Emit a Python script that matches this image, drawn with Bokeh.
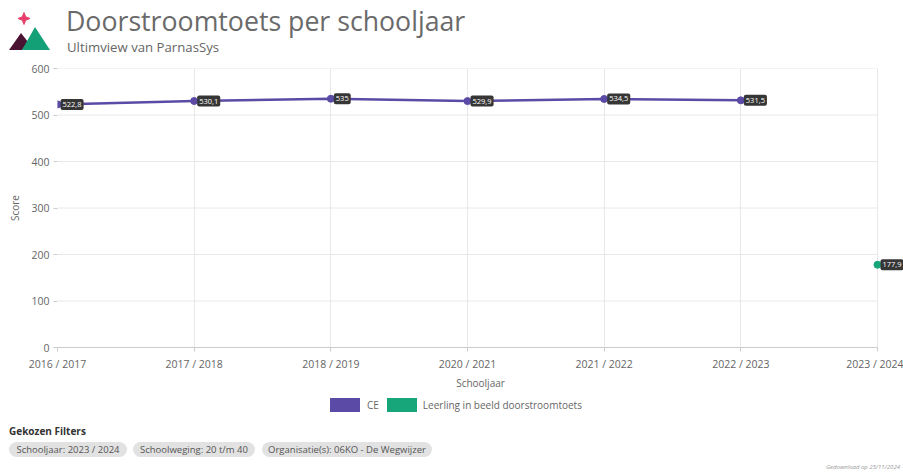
from bokeh.plotting import figure
from bokeh.models import Label, FixedTicker, Range1d, Div
from bokeh.layouts import column
from bokeh.embed import file_html
from bokeh.resources import INLINE
import math

# ---- data ----
years = ["2016 / 2017", "2017 / 2018", "2018 / 2019", "2020 / 2021",
         "2021 / 2022", "2022 / 2023", "2023 / 2024"]
ce_years = ["2016 / 2017", "2017 / 2018", "2018 / 2019", "2020 / 2021",
            "2021 / 2022", "2022 / 2023"]
ce_values = [522.8, 530.1, 535.0, 529.9, 534.5, 531.5]
lib_years = ["2023 / 2024"]
lib_values = [177.9]
y_ticks = [0, 100, 200, 300, 400, 500, 600]
series_names = ["CE", "Leerling in beeld doorstroomtoets"]
filters = ["Schooljaar: 2023 / 2024", "Schoolweging: 20 t/m 40",
           "Organisatie(s): 06KO - De Wegwijzer"]
title = "Doorstroomtoets per schooljaar"
subtitle = "Ultimview van ParnasSys"
download = "Gedownload op 25/11/2024"

PURPLE = "#5b4aa6"
GREEN = "#17a67a"
FONT = "Open Sans"
W = 903

# ---- header ----
star = []
for k in range(8):
    ang = math.pi / 2 + k * math.pi / 4
    r = 6.0 if k % 2 == 0 else 2.4
    star.append("%.1f,%.1f" % (24 + r * math.cos(ang), 18.5 - r * math.sin(ang)))
logo = (
    '<svg width="56" height="56" style="position:absolute;left:0;top:0">'
    '<polygon points="%s" fill="#e8406a" stroke="#e8406a" stroke-width="1" stroke-linejoin="round"/>'
    '<polygon points="9,50 21,33 28,42 22,50" fill="#4b1333"/>'
    '<polygon points="22,50 35,27 50,50" fill="#13a077"/>'
    '</svg>' % " ".join(star))
header_html = (
    '<div style="position:relative;width:%dpx;height:60px;font-family:\'Open Sans\';">'
    '%s'
    '<div style="position:absolute;left:66px;top:4px;font-size:26.7px;color:#6a6a6a;'
    'white-space:nowrap;line-height:34px;">%s</div>'
    '<div style="position:absolute;left:67px;top:40px;font-size:13.2px;color:#666;'
    'white-space:nowrap;line-height:14px;">%s</div>'
    '</div>' % (W, logo, title, subtitle))
header = Div(text=header_html, width=W, height=60, margin=0)

# ---- chart ----
H = 332
n = len(years)
x_end = (W - 57) * (n - 1) / 820
p = figure(width=W, height=H, output_backend="svg", toolbar_location=None,
           x_range=Range1d(0, x_end), y_range=Range1d(0, 600),
           min_border_left=57, min_border_right=0, min_border_top=8,
           min_border_bottom=43, margin=0)
p.outline_line_color = None

xi = {y: i for i, y in enumerate(years)}
ce_x = [xi[y] for y in ce_years]
lib_x = [xi[y] for y in lib_years]

p.xaxis.ticker = FixedTicker(ticks=list(range(n)))
p.xaxis.major_label_overrides = {i: y for i, y in enumerate(years)}
p.xaxis.bounds = (0, n - 1)
p.yaxis.ticker = FixedTicker(ticks=y_ticks)
for ax in (p.xaxis[0], p.yaxis[0]):
    ax.major_label_text_font = FONT
    ax.major_label_text_font_size = "10.5px"
    ax.major_label_text_color = "#666666"
    ax.axis_label_text_font = FONT
    ax.axis_label_text_font_size = "10px"
    ax.axis_label_text_font_style = "normal"
    ax.axis_label_text_color = "#666666"
    ax.minor_tick_line_color = None
    ax.major_tick_in = 0
p.xaxis.axis_label = "Schooljaar"
p.yaxis.axis_label = "Score"
p.xaxis.axis_line_color = "#cccccc"
p.xaxis.major_tick_line_color = "#cccccc"
p.xaxis.major_tick_out = 4
p.xaxis.major_label_standoff = 5
p.xaxis.axis_label_standoff = 2
p.yaxis.axis_line_color = None
p.yaxis.major_tick_line_color = "#cccccc"
p.yaxis.major_tick_out = 4
p.yaxis.major_label_standoff = 4
p.yaxis.axis_label_standoff = 6
p.xgrid.grid_line_color = "#e8e8e8"
p.ygrid.grid_line_color = None
p.segment(x0=[0] * len(y_ticks), x1=[n - 1] * len(y_ticks), y0=y_ticks, y1=y_ticks,
          line_color="#e8e8e8", line_width=1, level="underlay")

# series
p.line(ce_x, ce_values, line_color=PURPLE, line_width=2.5)
p.scatter(ce_x, ce_values, size=7, fill_color=PURPLE, line_color=PURPLE)
p.scatter(lib_x, lib_values, size=7, fill_color=GREEN, line_color=GREEN)

def fmt(v):
    s = ("%.1f" % v).replace(".", ",")
    return s[:-2] if s.endswith(",0") else s

for xs, vs in ((ce_x, ce_values), (lib_x, lib_values)):
    for x, v in zip(xs, vs):
        p.add_layout(Label(x=x, y=v, text=fmt(v), x_offset=3,
                           text_baseline="middle", text_align="left",
                           text_font=FONT, text_font_size="7.5px",
                           text_color="white",
                           background_fill_color="#363636",
                           border_radius=2,
                           padding=dict(left=2, right=2, top=3, bottom=3)))

# ---- footer: legend + filters ----
legend_html = (
    '<div style="position:absolute;left:330px;top:6px;white-space:nowrap;'
    'font-size:10px;line-height:14px;color:#666;">'
    '<span style="display:inline-block;width:30px;height:14px;background:%s;'
    'vertical-align:top;"></span>'
    '<span style="display:inline-block;margin:0 8px 0 7px;">%s</span>'
    '<span style="display:inline-block;width:30px;height:14px;background:%s;'
    'vertical-align:top;"></span>'
    '<span style="display:inline-block;margin-left:6px;">%s</span>'
    '</div>' % (PURPLE, series_names[0], GREEN, series_names[1]))
pill_left = [9, 133, 262]
pill_width = [118, 122, 170]
pills = "".join(
    '<div style="position:absolute;left:%dpx;top:50px;width:%dpx;height:15px;'
    'background:#e2e2e2;border-radius:8px;text-align:center;font-size:9.5px;'
    'line-height:15px;color:#555;white-space:nowrap;">%s</div>' % (l, w, f)
    for l, w, f in zip(pill_left, pill_width, filters))
footer_html = (
    '<div style="position:relative;width:%dpx;height:82px;font-family:\'Open Sans\';">'
    '%s'
    '<div style="position:absolute;left:9px;top:32px;font-size:10px;font-weight:bold;'
    'color:#333;line-height:14px;">Gekozen Filters</div>'
    '%s'
    '<div style="position:absolute;right:3px;top:71px;font-size:6px;font-style:italic;'
    'color:#999;line-height:8px;">%s</div>'
    '</div>' % (W, legend_html, pills, download))
footer = Div(text=footer_html, width=W, height=82, margin=0)

layout = column(header, p, footer, spacing=0)
open("out.html", "w").write(file_html(layout, INLINE))
